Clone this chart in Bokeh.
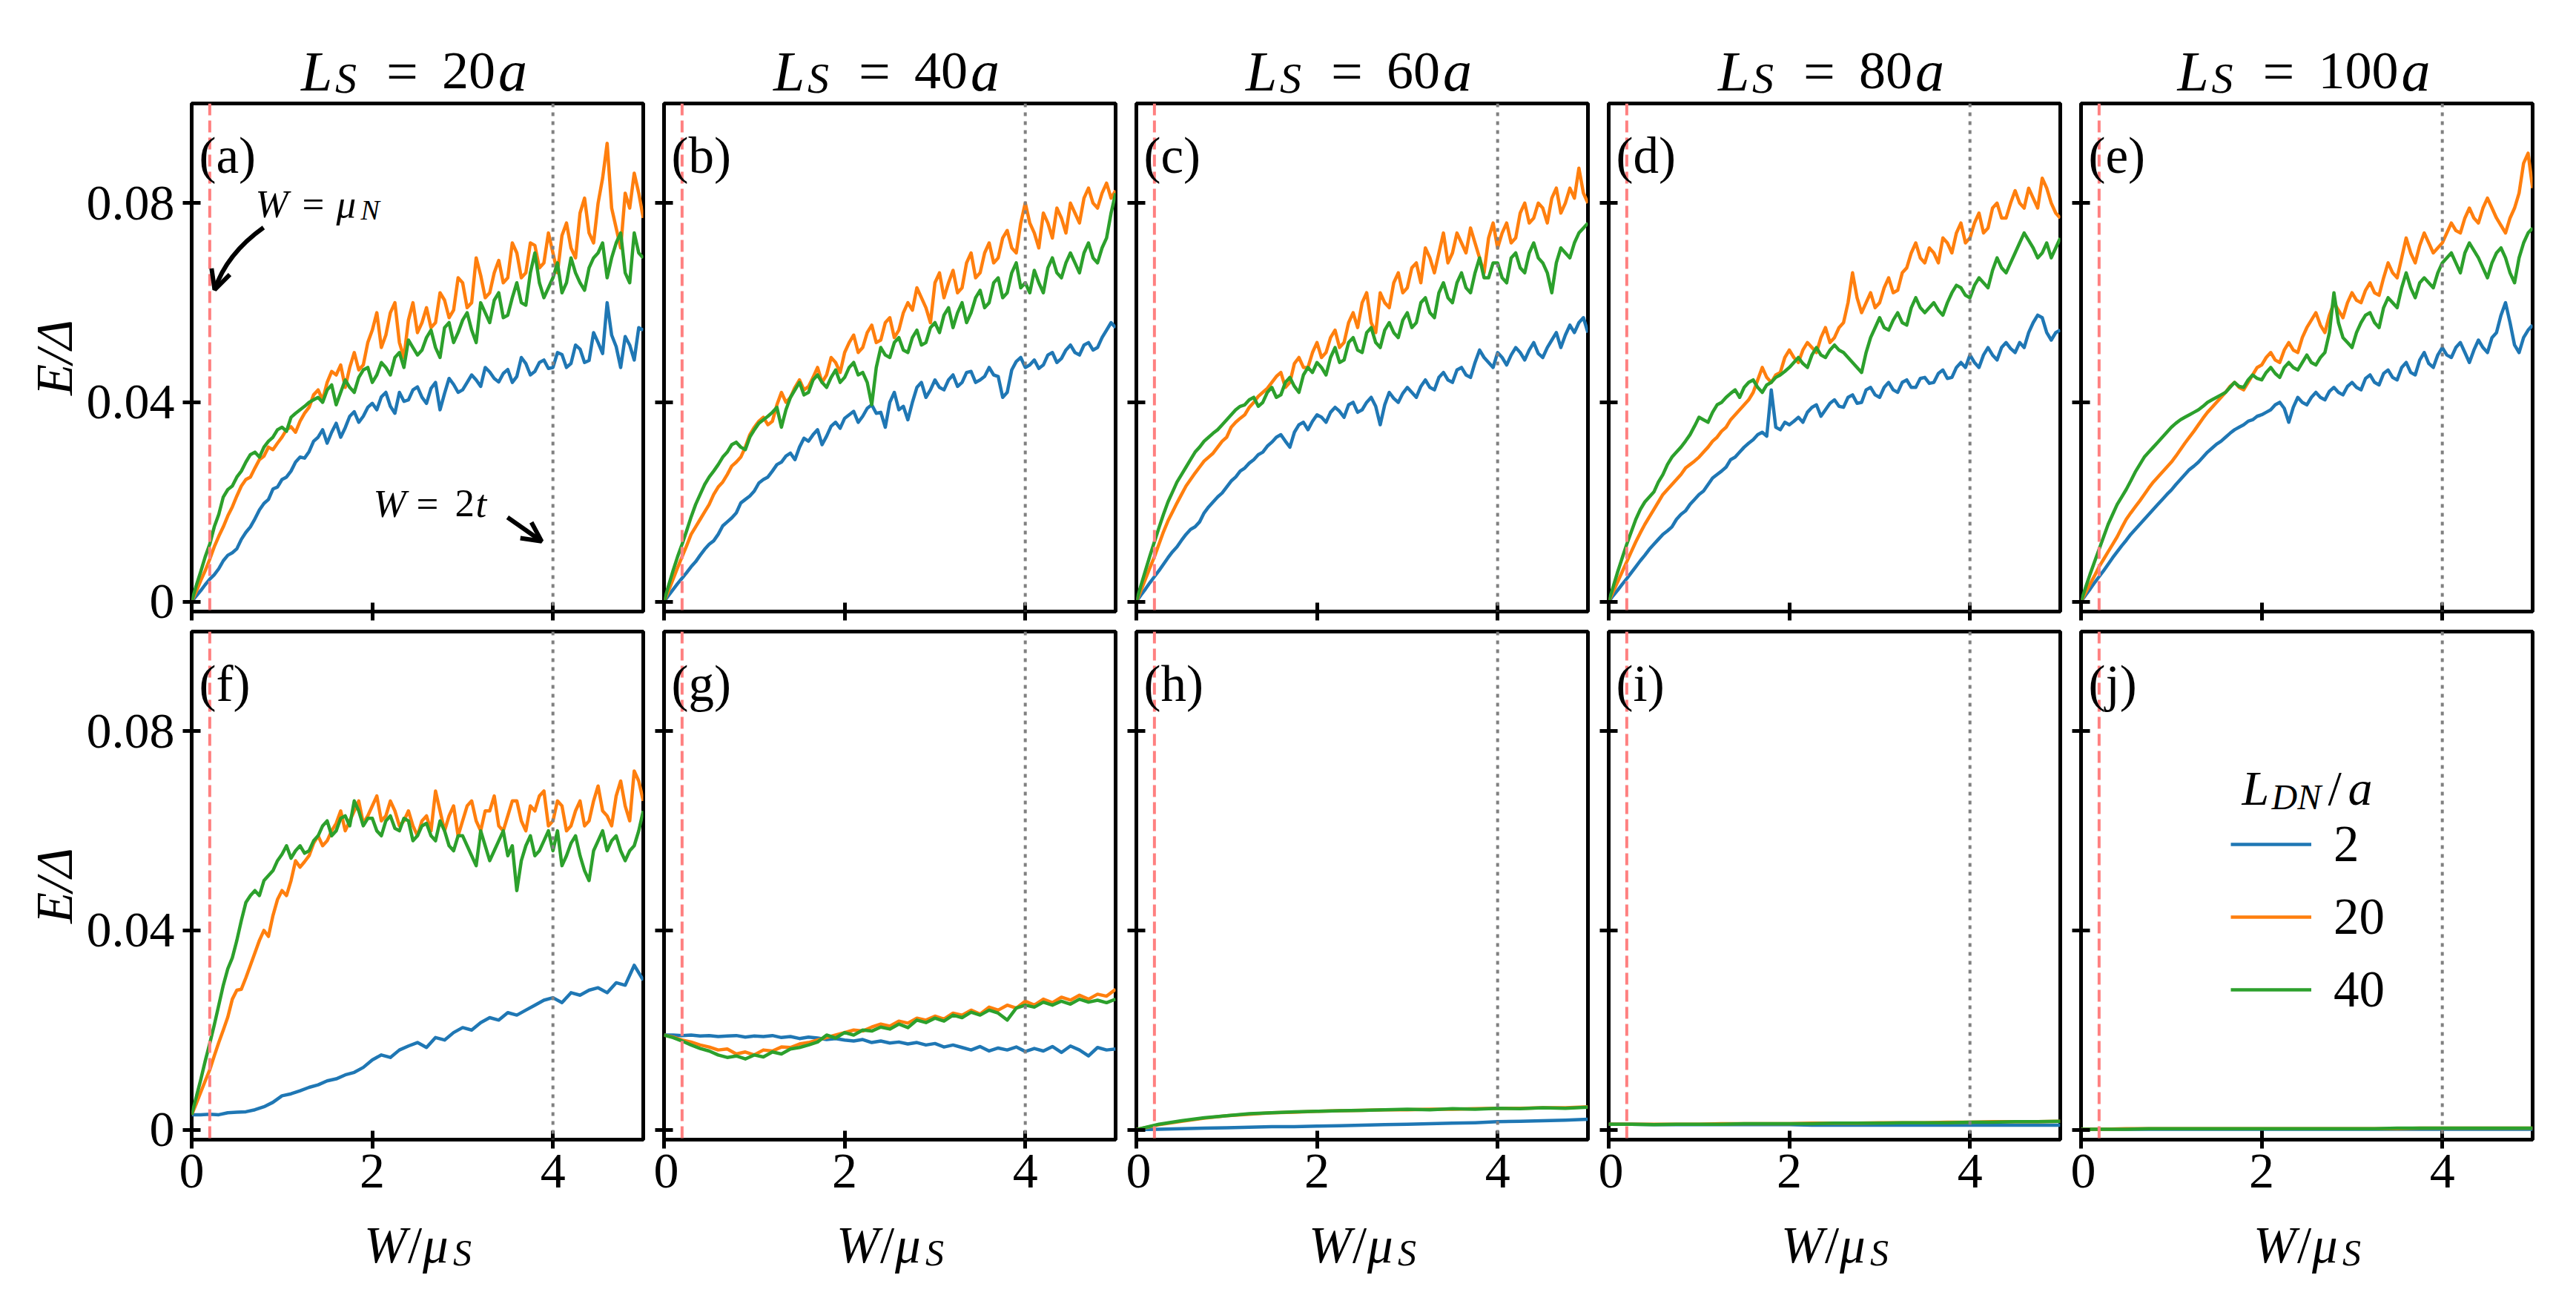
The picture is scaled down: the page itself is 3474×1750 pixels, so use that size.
from bokeh.plotting import figure
from bokeh.layouts import column, row
from bokeh.models import (Range1d, FixedTicker, Span, Label, Legend, LegendItem,
                          Arrow, OpenHead)
from bokeh.embed import file_html
from bokeh.resources import INLINE

FONT = "Liberation Serif"
BLUE, ORANGE, GREEN = "#1f77b4", "#ff7f0e", "#2ca02c"

# ---------------- data ----------------
X_FINE = [0.00, 0.05, 0.10, 0.15, 0.20, 0.25, 0.30, 0.35, 0.40, 0.45,
          0.50, 0.55, 0.60, 0.65, 0.70, 0.75, 0.80, 0.85, 0.90, 0.95,
          1.00, 1.05, 1.10, 1.15, 1.20, 1.25, 1.30, 1.35, 1.40, 1.45,
          1.50, 1.55, 1.60, 1.65, 1.70, 1.75, 1.80, 1.85, 1.90, 1.95,
          2.00, 2.05, 2.10, 2.15, 2.20, 2.25, 2.30, 2.35, 2.40, 2.45,
          2.50, 2.55, 2.60, 2.65, 2.70, 2.75, 2.80, 2.85, 2.90, 2.95,
          3.00, 3.05, 3.10, 3.15, 3.20, 3.25, 3.30, 3.35, 3.40, 3.45,
          3.50, 3.55, 3.60, 3.65, 3.70, 3.75, 3.80, 3.85, 3.90, 3.95,
          4.00, 4.05, 4.10, 4.15, 4.20, 4.25, 4.30, 4.35, 4.40, 4.45,
          4.50, 4.55, 4.60, 4.65, 4.70, 4.75, 4.80, 4.85, 4.90, 4.95,
          5.00]
X_GRID = [0.0, 0.1, 0.2, 0.3, 0.4, 0.5, 0.6, 0.7, 0.8, 0.9,
          1.0, 1.1, 1.2, 1.3, 1.4, 1.5, 1.6, 1.7, 1.8, 1.9,
          2.0, 2.1, 2.2, 2.3, 2.4, 2.5, 2.6, 2.7, 2.8, 2.9,
          3.0, 3.1, 3.2, 3.3, 3.4, 3.5, 3.6, 3.7, 3.8, 3.9,
          4.0, 4.1, 4.2, 4.3, 4.4, 4.5, 4.6, 4.7, 4.8, 4.9,
          5.0]
X_FLAT = [0.0, 0.25, 0.5, 0.75, 1.0, 1.25, 1.5, 1.75, 2.0, 2.25, 2.5,
          2.75, 3.0, 3.25, 3.5, 3.75, 4.0, 4.25, 4.5, 4.75, 5.0]

# ---- panel (a): L_S = 20a (on X_FINE)
A_BLUE = [0.0000, 0.0011, 0.0022, 0.0034, 0.0045, 0.0054, 0.0066, 0.0082, 0.0093, 0.0098,
          0.0106, 0.0125, 0.0139, 0.0150, 0.0166, 0.0184, 0.0197, 0.0205, 0.0226, 0.0230,
          0.0245, 0.0250, 0.0262, 0.0280, 0.0290, 0.0288, 0.0301, 0.0322, 0.0330, 0.0345,
          0.0318, 0.0340, 0.0358, 0.0330, 0.0349, 0.0372, 0.0381, 0.0360, 0.0372, 0.0390,
          0.0398, 0.0385, 0.0411, 0.0420, 0.0392, 0.0378, 0.0420, 0.0402, 0.0405, 0.0425,
          0.0431, 0.0410, 0.0398, 0.0428, 0.0440, 0.0385, 0.0418, 0.0448, 0.0436, 0.0420,
          0.0425, 0.0440, 0.0455, 0.0445, 0.0432, 0.0470, 0.0461, 0.0448, 0.0441, 0.0458,
          0.0466, 0.0440, 0.0452, 0.0490, 0.0478, 0.0455, 0.0462, 0.0480, 0.0485, 0.0468,
          0.0470, 0.0500, 0.0496, 0.0470, 0.0478, 0.0515, 0.0507, 0.0480, 0.0484, 0.0540,
          0.0520, 0.0498, 0.0600, 0.0535, 0.0512, 0.0470, 0.0532, 0.0515, 0.0485, 0.0550,
          0.0545]
A_ORANGE = [0.0000, 0.0020, 0.0042, 0.0062, 0.0085, 0.0110, 0.0131, 0.0150, 0.0172, 0.0190,
            0.0212, 0.0232, 0.0245, 0.0250, 0.0268, 0.0285, 0.0292, 0.0310, 0.0305, 0.0318,
            0.0330, 0.0345, 0.0351, 0.0340, 0.0362, 0.0378, 0.0390, 0.0415, 0.0425, 0.0405,
            0.0440, 0.0462, 0.0455, 0.0475, 0.0430, 0.0470, 0.0500, 0.0465, 0.0475, 0.0520,
            0.0545, 0.0580, 0.0510, 0.0535, 0.0580, 0.0600, 0.0520, 0.0490, 0.0565, 0.0600,
            0.0540, 0.0560, 0.0590, 0.0550, 0.0560, 0.0620, 0.0605, 0.0570, 0.0585, 0.0650,
            0.0640, 0.0590, 0.0600, 0.0690, 0.0655, 0.0610, 0.0620, 0.0660, 0.0685, 0.0640,
            0.0650, 0.0720, 0.0700, 0.0650, 0.0660, 0.0720, 0.0715, 0.0670, 0.0680, 0.0740,
            0.0700, 0.0660, 0.0735, 0.0760, 0.0710, 0.0690, 0.0780, 0.0810, 0.0740, 0.0720,
            0.0800, 0.0850, 0.0920, 0.0790, 0.0750, 0.0710, 0.0820, 0.0790, 0.0860, 0.0820,
            0.0770]
A_GREEN = [0.0000, 0.0032, 0.0060, 0.0090, 0.0115, 0.0150, 0.0175, 0.0210, 0.0225, 0.0232,
           0.0250, 0.0262, 0.0280, 0.0295, 0.0300, 0.0290, 0.0310, 0.0322, 0.0330, 0.0345,
           0.0350, 0.0342, 0.0370, 0.0378, 0.0385, 0.0392, 0.0400, 0.0405, 0.0410, 0.0400,
           0.0425, 0.0435, 0.0395, 0.0420, 0.0445, 0.0430, 0.0420, 0.0450, 0.0465, 0.0470,
           0.0440, 0.0455, 0.0480, 0.0470, 0.0455, 0.0490, 0.0500, 0.0470, 0.0525, 0.0510,
           0.0495, 0.0505, 0.0530, 0.0545, 0.0510, 0.0490, 0.0550, 0.0560, 0.0520, 0.0540,
           0.0565, 0.0580, 0.0545, 0.0520, 0.0600, 0.0580, 0.0560, 0.0605, 0.0620, 0.0570,
           0.0575, 0.0610, 0.0640, 0.0600, 0.0595, 0.0660, 0.0700, 0.0640, 0.0610, 0.0630,
           0.0650, 0.0680, 0.0620, 0.0640, 0.0690, 0.0660, 0.0640, 0.0625, 0.0670, 0.0690,
           0.0700, 0.0720, 0.0650, 0.0690, 0.0720, 0.0740, 0.0660, 0.0640, 0.0740, 0.0700,
           0.0690]

# ---- panel (b): L_S = 40a (on X_FINE)
B_BLUE = [0.0000, 0.0012, 0.0024, 0.0036, 0.0047, 0.0058, 0.0070, 0.0080, 0.0093, 0.0105,
          0.0115, 0.0122, 0.0135, 0.0152, 0.0160, 0.0168, 0.0178, 0.0198, 0.0205, 0.0212,
          0.0222, 0.0238, 0.0245, 0.0250, 0.0262, 0.0275, 0.0280, 0.0292, 0.0298, 0.0285,
          0.0310, 0.0328, 0.0322, 0.0335, 0.0345, 0.0315, 0.0332, 0.0352, 0.0360, 0.0348,
          0.0368, 0.0375, 0.0382, 0.0360, 0.0372, 0.0388, 0.0395, 0.0378, 0.0380, 0.0350,
          0.0400, 0.0420, 0.0385, 0.0392, 0.0365, 0.0400, 0.0430, 0.0440, 0.0410, 0.0425,
          0.0445, 0.0430, 0.0425, 0.0445, 0.0455, 0.0432, 0.0440, 0.0460, 0.0462, 0.0440,
          0.0445, 0.0452, 0.0470, 0.0455, 0.0452, 0.0410, 0.0420, 0.0465, 0.0482, 0.0490,
          0.0470, 0.0475, 0.0485, 0.0468, 0.0475, 0.0495, 0.0500, 0.0480, 0.0488, 0.0505,
          0.0515, 0.0500, 0.0495, 0.0515, 0.0520, 0.0505, 0.0510, 0.0530, 0.0545, 0.0560,
          0.0550]
B_ORANGE = [0.0000, 0.0022, 0.0045, 0.0068, 0.0090, 0.0112, 0.0135, 0.0150, 0.0165, 0.0180,
            0.0195, 0.0215, 0.0230, 0.0240, 0.0255, 0.0272, 0.0280, 0.0290, 0.0310, 0.0335,
            0.0350, 0.0362, 0.0370, 0.0355, 0.0362, 0.0395, 0.0420, 0.0400, 0.0410, 0.0430,
            0.0445, 0.0425, 0.0432, 0.0450, 0.0470, 0.0440, 0.0455, 0.0490, 0.0480, 0.0460,
            0.0500, 0.0520, 0.0535, 0.0500, 0.0510, 0.0540, 0.0555, 0.0520, 0.0525, 0.0560,
            0.0570, 0.0530, 0.0545, 0.0580, 0.0600, 0.0585, 0.0630, 0.0610, 0.0590, 0.0560,
            0.0640, 0.0660, 0.0610, 0.0640, 0.0665, 0.0620, 0.0630, 0.0680, 0.0700, 0.0650,
            0.0660, 0.0700, 0.0720, 0.0680, 0.0690, 0.0730, 0.0745, 0.0710, 0.0700, 0.0760,
            0.0800, 0.0760, 0.0740, 0.0710, 0.0780, 0.0760, 0.0730, 0.0790, 0.0770, 0.0740,
            0.0800, 0.0780, 0.0760, 0.0810, 0.0830, 0.0800, 0.0790, 0.0820, 0.0840, 0.0810,
            0.0825]
B_GREEN = [0.0000, 0.0032, 0.0062, 0.0090, 0.0115, 0.0142, 0.0170, 0.0195, 0.0215, 0.0235,
           0.0250, 0.0262, 0.0275, 0.0290, 0.0300, 0.0315, 0.0320, 0.0310, 0.0305, 0.0330,
           0.0345, 0.0358, 0.0365, 0.0372, 0.0380, 0.0390, 0.0350, 0.0385, 0.0410, 0.0425,
           0.0440, 0.0415, 0.0420, 0.0445, 0.0455, 0.0440, 0.0430, 0.0450, 0.0465, 0.0440,
           0.0450, 0.0470, 0.0480, 0.0455, 0.0460, 0.0440, 0.0395, 0.0470, 0.0510, 0.0495,
           0.0490, 0.0520, 0.0530, 0.0505, 0.0500, 0.0530, 0.0545, 0.0515, 0.0520, 0.0550,
           0.0560, 0.0540, 0.0575, 0.0590, 0.0550, 0.0580, 0.0600, 0.0560, 0.0580, 0.0610,
           0.0625, 0.0590, 0.0600, 0.0640, 0.0650, 0.0610, 0.0620, 0.0660, 0.0680, 0.0630,
           0.0640, 0.0620, 0.0665, 0.0640, 0.0620, 0.0670, 0.0690, 0.0660, 0.0650, 0.0680,
           0.0700, 0.0680, 0.0660, 0.0700, 0.0720, 0.0690, 0.0680, 0.0710, 0.0730, 0.0780,
           0.0820]

# ---- panel (c): L_S = 60a (on X_FINE)
C_BLUE = [0.0000, 0.0013, 0.0025, 0.0038, 0.0050, 0.0062, 0.0075, 0.0088, 0.0100, 0.0110,
          0.0123, 0.0135, 0.0145, 0.0150, 0.0160, 0.0178, 0.0190, 0.0200, 0.0210, 0.0218,
          0.0230, 0.0242, 0.0250, 0.0262, 0.0268, 0.0278, 0.0285, 0.0295, 0.0300, 0.0312,
          0.0320, 0.0330, 0.0335, 0.0322, 0.0310, 0.0340, 0.0355, 0.0360, 0.0345, 0.0362,
          0.0375, 0.0370, 0.0360, 0.0380, 0.0390, 0.0382, 0.0370, 0.0395, 0.0400, 0.0380,
          0.0385, 0.0400, 0.0410, 0.0392, 0.0355, 0.0395, 0.0420, 0.0408, 0.0400, 0.0418,
          0.0430, 0.0420, 0.0410, 0.0432, 0.0445, 0.0430, 0.0425, 0.0450, 0.0460, 0.0445,
          0.0440, 0.0465, 0.0470, 0.0455, 0.0450, 0.0480, 0.0505, 0.0490, 0.0480, 0.0470,
          0.0500, 0.0490, 0.0475, 0.0495, 0.0510, 0.0500, 0.0485, 0.0505, 0.0520, 0.0498,
          0.0490, 0.0510, 0.0525, 0.0540, 0.0510, 0.0535, 0.0555, 0.0540, 0.0560, 0.0570,
          0.0540]
C_ORANGE = [0.0000, 0.0022, 0.0045, 0.0068, 0.0090, 0.0115, 0.0140, 0.0162, 0.0180, 0.0198,
            0.0215, 0.0232, 0.0245, 0.0258, 0.0270, 0.0282, 0.0290, 0.0298, 0.0310, 0.0322,
            0.0330, 0.0350, 0.0360, 0.0368, 0.0375, 0.0390, 0.0400, 0.0412, 0.0420, 0.0428,
            0.0440, 0.0452, 0.0460, 0.0430, 0.0440, 0.0478, 0.0490, 0.0470, 0.0470, 0.0500,
            0.0520, 0.0490, 0.0500, 0.0530, 0.0545, 0.0510, 0.0520, 0.0560, 0.0580, 0.0550,
            0.0600, 0.0620, 0.0560, 0.0540, 0.0620, 0.0600, 0.0590, 0.0640, 0.0660, 0.0620,
            0.0630, 0.0670, 0.0680, 0.0640, 0.0710, 0.0690, 0.0660, 0.0700, 0.0740, 0.0680,
            0.0700, 0.0740, 0.0720, 0.0700, 0.0750, 0.0720, 0.0690, 0.0660, 0.0730, 0.0760,
            0.0710, 0.0740, 0.0760, 0.0720, 0.0730, 0.0780, 0.0800, 0.0760, 0.0770, 0.0800,
            0.0790, 0.0760, 0.0810, 0.0830, 0.0780, 0.0800, 0.0830, 0.0810, 0.0870, 0.0820,
            0.0800]
C_GREEN = [0.0000, 0.0032, 0.0062, 0.0092, 0.0120, 0.0148, 0.0175, 0.0200, 0.0220, 0.0240,
           0.0255, 0.0270, 0.0285, 0.0300, 0.0310, 0.0322, 0.0330, 0.0338, 0.0345, 0.0355,
           0.0365, 0.0375, 0.0385, 0.0392, 0.0395, 0.0405, 0.0410, 0.0392, 0.0400, 0.0420,
           0.0430, 0.0410, 0.0415, 0.0440, 0.0450, 0.0432, 0.0420, 0.0455, 0.0470, 0.0460,
           0.0480, 0.0470, 0.0455, 0.0490, 0.0510, 0.0480, 0.0485, 0.0520, 0.0530, 0.0505,
           0.0500, 0.0540, 0.0550, 0.0520, 0.0510, 0.0545, 0.0560, 0.0540, 0.0530, 0.0565,
           0.0580, 0.0550, 0.0560, 0.0600, 0.0610, 0.0580, 0.0570, 0.0620, 0.0640, 0.0610,
           0.0600, 0.0640, 0.0660, 0.0630, 0.0620, 0.0660, 0.0690, 0.0650, 0.0650, 0.0680,
           0.0680, 0.0650, 0.0640, 0.0690, 0.0700, 0.0670, 0.0660, 0.0700, 0.0720, 0.0690,
           0.0680, 0.0660, 0.0620, 0.0680, 0.0710, 0.0700, 0.0690, 0.0720, 0.0740, 0.0750,
           0.0760]

# ---- panel (d): L_S = 80a (on X_FINE)
D_BLUE = [0.0000, 0.0012, 0.0023, 0.0035, 0.0046, 0.0058, 0.0070, 0.0082, 0.0093, 0.0105,
          0.0115, 0.0125, 0.0135, 0.0142, 0.0150, 0.0165, 0.0175, 0.0182, 0.0195, 0.0205,
          0.0215, 0.0222, 0.0235, 0.0248, 0.0255, 0.0262, 0.0270, 0.0285, 0.0290, 0.0300,
          0.0310, 0.0318, 0.0325, 0.0335, 0.0340, 0.0332, 0.0425, 0.0350, 0.0345, 0.0360,
          0.0355, 0.0362, 0.0370, 0.0360, 0.0380, 0.0390, 0.0395, 0.0372, 0.0385, 0.0398,
          0.0405, 0.0392, 0.0390, 0.0410, 0.0415, 0.0398, 0.0400, 0.0425, 0.0430, 0.0415,
          0.0410, 0.0430, 0.0440, 0.0425, 0.0420, 0.0440, 0.0445, 0.0430, 0.0430, 0.0448,
          0.0450, 0.0438, 0.0440, 0.0458, 0.0465, 0.0448, 0.0450, 0.0470, 0.0480, 0.0470,
          0.0495, 0.0480, 0.0470, 0.0495, 0.0510, 0.0495, 0.0485, 0.0510, 0.0520, 0.0508,
          0.0500, 0.0520, 0.0510, 0.0540, 0.0560, 0.0575, 0.0570, 0.0540, 0.0525, 0.0540,
          0.0545]
D_ORANGE = [0.0000, 0.0020, 0.0040, 0.0060, 0.0080, 0.0100, 0.0120, 0.0138, 0.0155, 0.0170,
            0.0185, 0.0200, 0.0215, 0.0225, 0.0235, 0.0245, 0.0255, 0.0268, 0.0275, 0.0282,
            0.0290, 0.0300, 0.0310, 0.0322, 0.0330, 0.0342, 0.0350, 0.0365, 0.0375, 0.0385,
            0.0395, 0.0405, 0.0420, 0.0445, 0.0470, 0.0450, 0.0440, 0.0455, 0.0460, 0.0490,
            0.0505, 0.0490, 0.0480, 0.0505, 0.0520, 0.0510, 0.0500, 0.0530, 0.0550, 0.0520,
            0.0530, 0.0550, 0.0560, 0.0600, 0.0660, 0.0610, 0.0580, 0.0600, 0.0620, 0.0590,
            0.0600, 0.0630, 0.0650, 0.0620, 0.0625, 0.0660, 0.0670, 0.0700, 0.0720, 0.0690,
            0.0680, 0.0710, 0.0700, 0.0680, 0.0730, 0.0720, 0.0700, 0.0740, 0.0760, 0.0720,
            0.0730, 0.0760, 0.0780, 0.0740, 0.0750, 0.0790, 0.0800, 0.0770, 0.0770, 0.0800,
            0.0825, 0.0800, 0.0790, 0.0830, 0.0810, 0.0790, 0.0850, 0.0830, 0.0800, 0.0780,
            0.0770]
D_GREEN = [0.0000, 0.0030, 0.0060, 0.0088, 0.0115, 0.0140, 0.0165, 0.0185, 0.0200, 0.0210,
           0.0220, 0.0240, 0.0255, 0.0275, 0.0290, 0.0300, 0.0310, 0.0322, 0.0335, 0.0352,
           0.0370, 0.0365, 0.0360, 0.0380, 0.0395, 0.0400, 0.0410, 0.0418, 0.0425, 0.0410,
           0.0430, 0.0440, 0.0445, 0.0430, 0.0420, 0.0435, 0.0440, 0.0450, 0.0455, 0.0462,
           0.0470, 0.0480, 0.0490, 0.0478, 0.0470, 0.0495, 0.0510, 0.0495, 0.0490, 0.0505,
           0.0515, 0.0505, 0.0500, 0.0490, 0.0480, 0.0470, 0.0460, 0.0500, 0.0530, 0.0550,
           0.0570, 0.0550, 0.0545, 0.0565, 0.0580, 0.0560, 0.0555, 0.0590, 0.0610, 0.0590,
           0.0580, 0.0590, 0.0600, 0.0585, 0.0575, 0.0600, 0.0620, 0.0635, 0.0630, 0.0615,
           0.0610, 0.0635, 0.0650, 0.0640, 0.0630, 0.0665, 0.0690, 0.0670, 0.0660, 0.0680,
           0.0700, 0.0720, 0.0740, 0.0725, 0.0710, 0.0690, 0.0700, 0.0720, 0.0690, 0.0710,
           0.0730]

# ---- panel (e): L_S = 100a (on X_FINE)
E_BLUE = [0.0000, 0.0013, 0.0025, 0.0038, 0.0050, 0.0062, 0.0075, 0.0088, 0.0100, 0.0112,
          0.0123, 0.0135, 0.0145, 0.0155, 0.0165, 0.0175, 0.0185, 0.0195, 0.0205, 0.0215,
          0.0224, 0.0235, 0.0245, 0.0255, 0.0265, 0.0272, 0.0280, 0.0290, 0.0300, 0.0308,
          0.0316, 0.0322, 0.0330, 0.0338, 0.0345, 0.0350, 0.0355, 0.0362, 0.0365, 0.0372,
          0.0375, 0.0380, 0.0385, 0.0395, 0.0400, 0.0388, 0.0360, 0.0390, 0.0410, 0.0400,
          0.0395, 0.0410, 0.0420, 0.0410, 0.0405, 0.0422, 0.0430, 0.0420, 0.0415, 0.0432,
          0.0440, 0.0430, 0.0425, 0.0448, 0.0455, 0.0440, 0.0435, 0.0458, 0.0465, 0.0450,
          0.0445, 0.0470, 0.0480, 0.0460, 0.0455, 0.0485, 0.0500, 0.0478, 0.0470, 0.0495,
          0.0510, 0.0495, 0.0490, 0.0510, 0.0520, 0.0500, 0.0480, 0.0505, 0.0525, 0.0510,
          0.0500, 0.0530, 0.0540, 0.0575, 0.0600, 0.0560, 0.0515, 0.0500, 0.0530, 0.0545,
          0.0555]
E_ORANGE = [0.0000, 0.0018, 0.0035, 0.0052, 0.0070, 0.0085, 0.0100, 0.0115, 0.0130, 0.0148,
            0.0165, 0.0178, 0.0190, 0.0202, 0.0215, 0.0228, 0.0240, 0.0250, 0.0260, 0.0270,
            0.0280, 0.0292, 0.0305, 0.0318, 0.0330, 0.0342, 0.0355, 0.0368, 0.0380, 0.0390,
            0.0400, 0.0410, 0.0420, 0.0432, 0.0440, 0.0430, 0.0425, 0.0440, 0.0455, 0.0470,
            0.0475, 0.0490, 0.0500, 0.0485, 0.0480, 0.0505, 0.0520, 0.0505, 0.0500, 0.0530,
            0.0550, 0.0565, 0.0580, 0.0555, 0.0540, 0.0575, 0.0600, 0.0585, 0.0570, 0.0600,
            0.0620, 0.0605, 0.0600, 0.0625, 0.0640, 0.0620, 0.0615, 0.0650, 0.0680, 0.0660,
            0.0650, 0.0690, 0.0730, 0.0700, 0.0680, 0.0715, 0.0740, 0.0720, 0.0700, 0.0710,
            0.0720, 0.0740, 0.0760, 0.0745, 0.0740, 0.0770, 0.0790, 0.0770, 0.0760, 0.0790,
            0.0810, 0.0790, 0.0770, 0.0755, 0.0740, 0.0770, 0.0790, 0.0820, 0.0880, 0.0900,
            0.0830]
E_GREEN = [0.0000, 0.0028, 0.0055, 0.0080, 0.0105, 0.0130, 0.0155, 0.0175, 0.0195, 0.0210,
           0.0225, 0.0242, 0.0260, 0.0275, 0.0290, 0.0300, 0.0310, 0.0320, 0.0330, 0.0340,
           0.0350, 0.0358, 0.0365, 0.0370, 0.0375, 0.0380, 0.0385, 0.0392, 0.0400, 0.0405,
           0.0410, 0.0415, 0.0420, 0.0430, 0.0440, 0.0432, 0.0430, 0.0445, 0.0455, 0.0448,
           0.0445, 0.0460, 0.0470, 0.0458, 0.0450, 0.0470, 0.0480, 0.0470, 0.0465, 0.0480,
           0.0495, 0.0480, 0.0475, 0.0490, 0.0500, 0.0540, 0.0620, 0.0560, 0.0530, 0.0520,
           0.0510, 0.0540, 0.0560, 0.0575, 0.0580, 0.0560, 0.0550, 0.0590, 0.0610, 0.0600,
           0.0590, 0.0630, 0.0660, 0.0630, 0.0610, 0.0640, 0.0650, 0.0640, 0.0630, 0.0660,
           0.0680, 0.0690, 0.0700, 0.0680, 0.0660, 0.0700, 0.0720, 0.0705, 0.0690, 0.0670,
           0.0650, 0.0680, 0.0700, 0.0710, 0.0690, 0.0660, 0.0640, 0.0690, 0.0720, 0.0740,
           0.0750]

# ---- panel (f): blue on X_GRID, orange / green on X_FINE
F_BLUE = [0.0030, 0.0030, 0.0031, 0.0030, 0.0034, 0.0035, 0.0036, 0.0040, 0.0046, 0.0055,
          0.0068, 0.0072, 0.0078, 0.0085, 0.0090, 0.0098, 0.0102, 0.0110, 0.0115, 0.0125,
          0.0140, 0.0150, 0.0145, 0.0160, 0.0168, 0.0175, 0.0165, 0.0185, 0.0180, 0.0195,
          0.0205, 0.0200, 0.0215, 0.0225, 0.0220, 0.0235, 0.0230, 0.0240, 0.0250, 0.0260,
          0.0265, 0.0255, 0.0275, 0.0270, 0.0280, 0.0285, 0.0275, 0.0295, 0.0290, 0.0330,
          0.0300]
F_ORANGE = [0.0030, 0.0052, 0.0075, 0.0098, 0.0120, 0.0148, 0.0175, 0.0200, 0.0226, 0.0262,
            0.0280, 0.0282, 0.0305, 0.0330, 0.0355, 0.0380, 0.0400, 0.0388, 0.0430, 0.0462,
            0.0480, 0.0470, 0.0500, 0.0540, 0.0527, 0.0538, 0.0550, 0.0575, 0.0590, 0.0570,
            0.0580, 0.0600, 0.0615, 0.0640, 0.0600, 0.0620, 0.0640, 0.0660, 0.0615, 0.0630,
            0.0650, 0.0670, 0.0620, 0.0630, 0.0660, 0.0640, 0.0610, 0.0620, 0.0640, 0.0610,
            0.0590, 0.0620, 0.0630, 0.0600, 0.0680, 0.0640, 0.0600, 0.0630, 0.0650, 0.0590,
            0.0620, 0.0650, 0.0660, 0.0620, 0.0600, 0.0640, 0.0640, 0.0670, 0.0610, 0.0600,
            0.0630, 0.0660, 0.0660, 0.0620, 0.0600, 0.0650, 0.0640, 0.0670, 0.0680, 0.0610,
            0.0620, 0.0660, 0.0650, 0.0600, 0.0610, 0.0640, 0.0660, 0.0610, 0.0620, 0.0660,
            0.0690, 0.0640, 0.0630, 0.0610, 0.0670, 0.0700, 0.0650, 0.0620, 0.0720, 0.0700,
            0.0660]
F_GREEN = [0.0030, 0.0065, 0.0100, 0.0138, 0.0173, 0.0210, 0.0250, 0.0290, 0.0323, 0.0345,
           0.0380, 0.0420, 0.0456, 0.0470, 0.0480, 0.0470, 0.0500, 0.0510, 0.0520, 0.0540,
           0.0553, 0.0570, 0.0545, 0.0560, 0.0570, 0.0555, 0.0560, 0.0580, 0.0590, 0.0610,
           0.0620, 0.0590, 0.0600, 0.0625, 0.0630, 0.0610, 0.0660, 0.0640, 0.0610, 0.0625,
           0.0625, 0.0600, 0.0590, 0.0620, 0.0630, 0.0605, 0.0600, 0.0625, 0.0620, 0.0580,
           0.0590, 0.0610, 0.0615, 0.0590, 0.0580, 0.0620, 0.0600, 0.0570, 0.0560, 0.0590,
           0.0590, 0.0570, 0.0550, 0.0530, 0.0600, 0.0570, 0.0540, 0.0560, 0.0580, 0.0600,
           0.0550, 0.0570, 0.0480, 0.0540, 0.0570, 0.0590, 0.0550, 0.0560, 0.0580, 0.0600,
           0.0560, 0.0600, 0.0530, 0.0550, 0.0575, 0.0590, 0.0550, 0.0520, 0.0500, 0.0560,
           0.0580, 0.0600, 0.0560, 0.0580, 0.0590, 0.0560, 0.0540, 0.0560, 0.0570, 0.0600,
           0.0640]

# ---- panel (g) (on X_GRID)
G_BLUE = [0.0190, 0.0190, 0.0189, 0.0190, 0.0188, 0.0189, 0.0187, 0.0188, 0.0189, 0.0186,
          0.0188, 0.0187, 0.0189, 0.0185, 0.0187, 0.0183, 0.0186, 0.0184, 0.0181, 0.0183,
          0.0180, 0.0178, 0.0181, 0.0175, 0.0178, 0.0174, 0.0176, 0.0172, 0.0175, 0.0170,
          0.0173, 0.0166, 0.0170, 0.0165, 0.0160, 0.0167, 0.0158, 0.0164, 0.0160, 0.0166,
          0.0157, 0.0163, 0.0158, 0.0167, 0.0155, 0.0168, 0.0160, 0.0148, 0.0165, 0.0160,
          0.0162]
G_ORANGE = [0.0190, 0.0186, 0.0180, 0.0176, 0.0170, 0.0166, 0.0160, 0.0162, 0.0152, 0.0156,
            0.0150, 0.0160, 0.0158, 0.0166, 0.0165, 0.0172, 0.0175, 0.0180, 0.0185, 0.0190,
            0.0195, 0.0200, 0.0198, 0.0206, 0.0212, 0.0208, 0.0218, 0.0214, 0.0224, 0.0220,
            0.0228, 0.0222, 0.0234, 0.0230, 0.0240, 0.0232, 0.0246, 0.0240, 0.0250, 0.0244,
            0.0258, 0.0250, 0.0262, 0.0255, 0.0266, 0.0260, 0.0270, 0.0262, 0.0272, 0.0268,
            0.0282]
G_GREEN = [0.0190, 0.0185, 0.0178, 0.0170, 0.0163, 0.0158, 0.0150, 0.0145, 0.0148, 0.0142,
           0.0150, 0.0146, 0.0156, 0.0152, 0.0162, 0.0165, 0.0170, 0.0176, 0.0190, 0.0184,
           0.0195, 0.0190, 0.0200, 0.0198, 0.0206, 0.0202, 0.0212, 0.0205, 0.0220, 0.0215,
           0.0224, 0.0218, 0.0230, 0.0225, 0.0236, 0.0230, 0.0240, 0.0234, 0.0220, 0.0244,
           0.0250, 0.0246, 0.0256, 0.0250, 0.0258, 0.0252, 0.0262, 0.0256, 0.0260, 0.0255,
           0.0262]

# ---- panels (h), (i), (j) (on X_FLAT)
H_BLUE = [0.0000, 0.0001, 0.0002, 0.0003, 0.0004, 0.0005, 0.0006, 0.0006, 0.0007, 0.0008, 0.0009,
          0.0010, 0.0011, 0.0012, 0.0013, 0.0014, 0.0016, 0.0017, 0.0018, 0.0019, 0.0021]
H_ORANGE = [0.0000, 0.0010, 0.0017, 0.0023, 0.0028, 0.0031, 0.0034, 0.0035, 0.0037, 0.0038, 0.0039,
            0.0040, 0.0040, 0.0041, 0.0041, 0.0042, 0.0043, 0.0043, 0.0044, 0.0044, 0.0046]
H_GREEN = [0.0000, 0.0011, 0.0018, 0.0024, 0.0028, 0.0032, 0.0034, 0.0036, 0.0037, 0.0038, 0.0039,
           0.0040, 0.0041, 0.0040, 0.0042, 0.0041, 0.0043, 0.0042, 0.0044, 0.0043, 0.0045]
I_BLUE = [0.0011, 0.0011, 0.0010, 0.0010, 0.0010, 0.0010, 0.0010, 0.0010, 0.0010, 0.0009, 0.0009,
          0.0009, 0.0009, 0.0009, 0.0009, 0.0009, 0.0009, 0.0009, 0.0009, 0.0009, 0.0009]
I_ORANGE = [0.0011, 0.0011, 0.0011, 0.0011, 0.0011, 0.0012, 0.0012, 0.0012, 0.0012, 0.0013, 0.0013,
            0.0013, 0.0014, 0.0014, 0.0014, 0.0015, 0.0015, 0.0016, 0.0016, 0.0016, 0.0017]
I_GREEN = [0.0011, 0.0011, 0.0010, 0.0011, 0.0011, 0.0011, 0.0012, 0.0012, 0.0012, 0.0012, 0.0013,
           0.0013, 0.0013, 0.0014, 0.0014, 0.0014, 0.0015, 0.0015, 0.0016, 0.0016, 0.0017]
J_BLUE = [0.0001, 0.0001, 0.0001, 0.0001, 0.0001, 0.0001, 0.0001, 0.0001, 0.0001, 0.0001, 0.0001,
          0.0001, 0.0001, 0.0001, 0.0001, 0.0001, 0.0001, 0.0001, 0.0001, 0.0001, 0.0001]
J_ORANGE = [0.0001, 0.0001, 0.0002, 0.0002, 0.0002, 0.0002, 0.0002, 0.0002, 0.0002, 0.0002, 0.0002,
            0.0002, 0.0002, 0.0002, 0.0002, 0.0003, 0.0003, 0.0003, 0.0003, 0.0003, 0.0003]
J_GREEN = [0.0001, 0.0001, 0.0001, 0.0002, 0.0002, 0.0002, 0.0002, 0.0002, 0.0002, 0.0002, 0.0002,
           0.0002, 0.0002, 0.0002, 0.0003, 0.0003, 0.0003, 0.0003, 0.0003, 0.0003, 0.0003]

LS_VALUES = ["20", "40", "60", "80", "100"]
TAGS_TOP = ["(a)", "(b)", "(c)", "(d)", "(e)"]
TAGS_BOTTOM = ["(f)", "(g)", "(h)", "(i)", "(j)"]
LEGEND_LABELS = ["2", "20", "40"]
X_TICKS = [0, 2, 4]
Y_TICKS = [0, 0.04, 0.08]
Y_TICK_LABELS = ["0", "0.04", "0.08"]
Y_LABEL = "E/\u0394"
MU_N = 0.2     # W = mu_N
W_2T = 4.0     # W = 2t

TOP_PANELS = [((X_FINE, A_BLUE), (X_FINE, A_ORANGE), (X_FINE, A_GREEN)),
              ((X_FINE, B_BLUE), (X_FINE, B_ORANGE), (X_FINE, B_GREEN)),
              ((X_FINE, C_BLUE), (X_FINE, C_ORANGE), (X_FINE, C_GREEN)),
              ((X_FINE, D_BLUE), (X_FINE, D_ORANGE), (X_FINE, D_GREEN)),
              ((X_FINE, E_BLUE), (X_FINE, E_ORANGE), (X_FINE, E_GREEN))]
BOTTOM_PANELS = [((X_GRID, F_BLUE), (X_FINE, F_ORANGE), (X_FINE, F_GREEN)),
                 ((X_GRID, G_BLUE), (X_GRID, G_ORANGE), (X_GRID, G_GREEN)),
                 ((X_FLAT, H_BLUE), (X_FLAT, H_ORANGE), (X_FLAT, H_GREEN)),
                 ((X_FLAT, I_BLUE), (X_FLAT, I_ORANGE), (X_FLAT, I_GREEN)),
                 ((X_FLAT, J_BLUE), (X_FLAT, J_ORANGE), (X_FLAT, J_GREEN))]

# ---------------- layout (page px) ----------------
FW, FH = 609, 685
TICK_FS = "68px"
COL0_LEFT = 258
INNER = 14
LAST_RIGHT = 30
TOP_STRIP_H = 134
ROW0_TOP, ROW0_BOTTOM = 5, 24
ROW1_TOP, ROW1_BOTTOM = 3, 100
BOTTOM_STRIP_H = 100
PITCH = FW + 2 * INNER
TOTAL_W = COL0_LEFT + FW + INNER + 3 * PITCH + INNER + FW + LAST_RIGHT


def txt(p, x, y, s, size, italic=False):
    p.add_layout(Label(x=x, y=y, x_units="screen", y_units="screen", text=s,
                       text_font=FONT, text_font_size="%dpx" % size,
                       text_font_style="italic" if italic else "normal",
                       text_color="black", text_align="left", text_baseline="alphabetic"))


def strip(w, h):
    s = figure(frame_width=w, frame_height=h, x_range=Range1d(0, 1), y_range=Range1d(0, 1),
               min_border=0, x_axis_location=None, y_axis_location=None,
               output_backend="svg", toolbar_location=None, tools="")
    s.grid.visible = False
    s.outline_line_color = None
    s.background_fill_color = "white"
    s.border_fill_color = "white"
    return s


def make_fig(col, rw):
    p = figure(frame_width=FW, frame_height=FH,
               x_range=Range1d(0, 5), y_range=Range1d(-0.002, 0.1),
               min_border_left=COL0_LEFT if col == 0 else INNER,
               min_border_right=LAST_RIGHT if col == 4 else INNER,
               min_border_top=ROW0_TOP if rw == 0 else ROW1_TOP,
               min_border_bottom=ROW0_BOTTOM if rw == 0 else ROW1_BOTTOM,
               output_backend="svg", toolbar_location=None, tools="")
    p.grid.visible = False
    p.background_fill_color = "white"
    p.border_fill_color = "white"
    p.outline_line_color = "black"
    p.outline_line_width = 5
    p.outline_line_alpha = 1.0
    for ax in (p.xaxis[0], p.yaxis[0]):
        ax.axis_line_color = None
        ax.major_tick_in = 12
        ax.major_tick_out = 12
        ax.major_tick_line_width = 5
        ax.major_tick_line_color = "black"
        ax.minor_tick_line_color = None
        ax.major_label_text_font = FONT
        ax.major_label_text_font_size = TICK_FS
        ax.major_label_text_color = "black"
    p.xaxis.ticker = FixedTicker(ticks=X_TICKS)
    p.yaxis.ticker = FixedTicker(ticks=Y_TICKS)
    if col == 0:
        p.yaxis.major_label_overrides = {t: s for t, s in zip(Y_TICKS, Y_TICK_LABELS)}
        p.yaxis.major_label_standoff = 11
        p.yaxis.axis_label = Y_LABEL
        p.yaxis.axis_label_text_font = FONT
        p.yaxis.axis_label_text_font_size = "69px"
        p.yaxis.axis_label_text_font_style = "italic"
        p.yaxis.axis_label_text_color = "black"
        p.yaxis.axis_label_standoff = 2
    else:
        p.yaxis.major_label_overrides = {t: "" for t in Y_TICKS}
        p.yaxis.major_label_text_font_size = "0px"
        p.yaxis.major_label_standoff = 0
    if rw == 0:
        p.xaxis.major_label_overrides = {t: "" for t in X_TICKS}
        p.xaxis.major_label_text_font_size = "0px"
        p.xaxis.major_label_standoff = 0
    else:
        p.xaxis.major_label_standoff = 8
    return p


def panel_center(col):
    return COL0_LEFT + col * PITCH + FW / 2.0


figs_top, figs_bot = [], []
for rw, panels, tags in ((0, TOP_PANELS, TAGS_TOP), (1, BOTTOM_PANELS, TAGS_BOTTOM)):
    for col, curves in enumerate(panels):
        p = make_fig(col, rw)
        rends = []
        for (xs, ys), colr in zip(curves, (BLUE, ORANGE, GREEN)):
            n = min(len(xs), len(ys))
            rends.append(p.line(xs[:n], ys[:n], line_color=colr, line_width=4.5,
                                line_join="round"))
        p.add_layout(Span(location=MU_N, dimension="height", line_color="#ff8080",
                          line_width=4, line_dash="16 7"))
        p.add_layout(Span(location=W_2T, dimension="height", line_color="#808080",
                          line_width=4, line_dash="5 7"))
        txt(p, 10, FH - 70, tags[col], 69)
        if rw == 1 and col == 4:
            legend = Legend(items=[LegendItem(label=lab, renderers=[r])
                                   for lab, r in zip(LEGEND_LABELS, rends)],
                            location=(202, 153), orientation="vertical",
                            glyph_width=109, glyph_height=98, label_height=98,
                            label_standoff=30, spacing=0, padding=0, margin=0,
                            border_line_color=None, background_fill_alpha=0,
                            label_text_font=FONT, label_text_font_size="69px",
                            label_text_color="black")
            p.add_layout(legend)
            txt(p, 217, 474, "L", 66, italic=True)
            txt(p, 257, 462, "DN", 48, italic=True)
            txt(p, 333, 474, "/", 66)
            txt(p, 360, 474, "a", 66, italic=True)
        if rw == 0 and col == 0:
            txt(p, 86, 550, "W", 53, italic=True)
            txt(p, 149, 550, "=", 53)
            txt(p, 195, 550, "\u03bc", 53, italic=True)
            txt(p, 228, 542, "N", 38, italic=True)
            p.quadratic(x0=[0.796], y0=[0.0751], x1=[0.2545], y1=[0.0626],
                        cx=[0.386], cy=[0.0698], line_color="black", line_width=6)
            p.add_layout(Arrow(end=OpenHead(size=26, line_width=6, line_color="black"),
                               x_start=0.320, y_start=0.0662, x_end=0.2545, y_end=0.0626,
                               line_alpha=0.0))
            txt(p, 245, 146, "W", 53, italic=True)
            txt(p, 303, 146, "=", 53)
            txt(p, 355, 146, "2", 53)
            txt(p, 383, 146, "t", 53, italic=True)
            p.add_layout(Arrow(end=OpenHead(size=26, line_width=6, line_color="black"),
                               x_start=3.497, y_start=0.0169, x_end=3.875, y_end=0.0121,
                               line_color="black", line_width=6))
        (figs_top if rw == 0 else figs_bot).append(p)

# ---- title strip (L_S = ..a) ----
top_strip = strip(TOTAL_W, TOP_STRIP_H)
for col, ls in enumerate(LS_VALUES):
    c = panel_center(col) - 17.5 * (len(ls) - 2)
    txt(top_strip, c - 157, 39, "L", 76, italic=True)
    txt(top_strip, c - 111, 29, "S", 58, italic=True)
    txt(top_strip, c - 42, 39, "=", 76)
    txt(top_strip, c + 33, 39, ls, 72)
    txt(top_strip, c + 37 + 36 * len(ls), 39, "a", 78, italic=True)

# ---- bottom strip (W / mu_S) ----
bottom_strip = strip(TOTAL_W, BOTTOM_STRIP_H)
for col in range(5):
    c = panel_center(col)
    txt(bottom_strip, c - 72, 58, "W", 69, italic=True)
    txt(bottom_strip, c - 13, 58, "/", 69)
    txt(bottom_strip, c + 7, 58, "\u03bc", 69, italic=True)
    txt(bottom_strip, c + 48, 48, "S", 50, italic=True)

grid = column(row(*figs_top, spacing=0), row(*figs_bot, spacing=0), spacing=0)
layout = column(top_strip, grid, bottom_strip, spacing=0)
open("out.html", "w").write(file_html(layout, INLINE))
